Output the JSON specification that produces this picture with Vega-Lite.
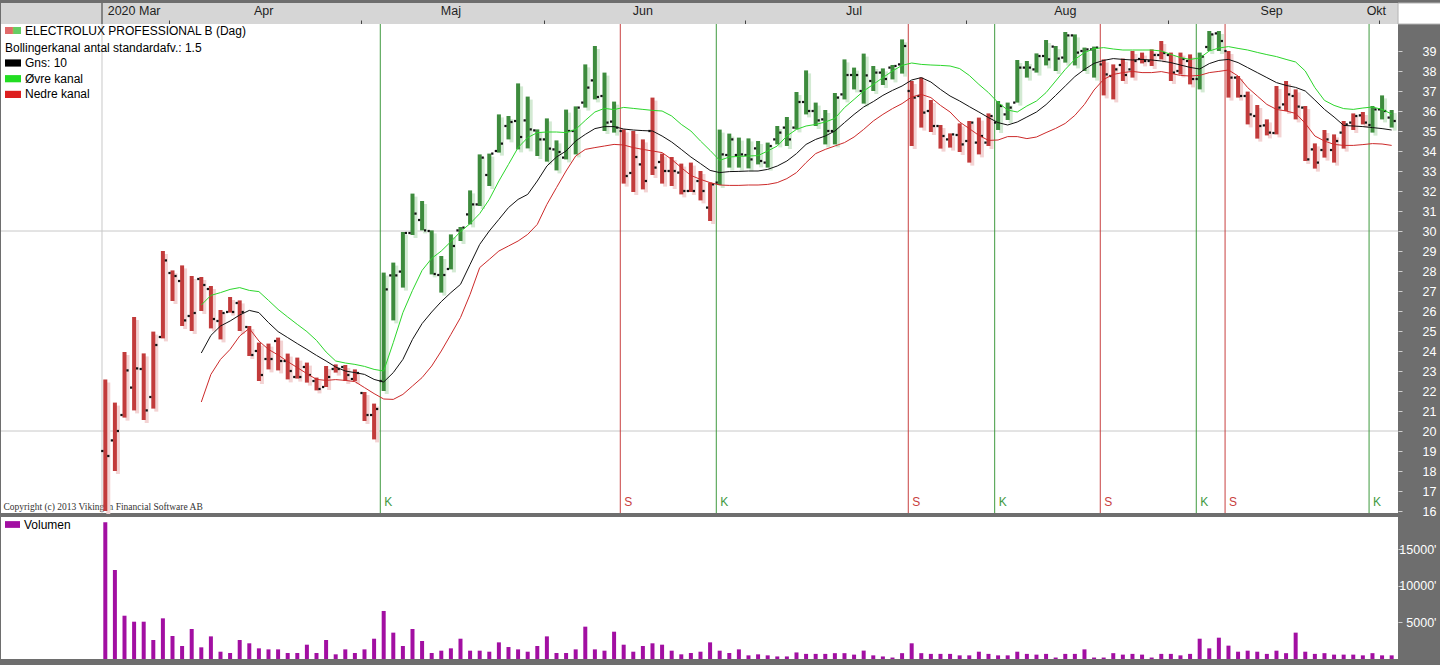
{
 "$schema": "https://vega.github.io/schema/vega-lite/v6.json",
 "background": "#6e6e6e",
 "padding": {"left": 0, "top": 2, "right": 10, "bottom": 10},
 "config": {"view": {"stroke": null}, "font": "Liberation Sans", "axis": {"labelOverlap": false, "labelSeparation": 0}, "legend": {"gradientHorizontalMinLength": 10, "gradientVerticalMinLength": 10}},
 "datasets": {
  "mon": [{"m":"2020 Mar","c":3},{"m":"Apr","c":16.5},{"m":"Maj","c":36},{"m":"Jun","c":56},{"m":"Jul","c":78},{"m":"Aug","c":100},{"m":"Sep","c":121.5},{"m":"Okt","c":132.4}],
  "sig": [{"k":29,"s":"K"},{"k":54,"s":"S"},{"k":64,"s":"K"},{"k":84,"s":"S"},{"k":93,"s":"K"},{"k":104,"s":"S"},{"k":114,"s":"K"},{"k":117,"s":"S"},{"k":132,"s":"K"}],
  "grid": [{"g":20},{"g":30}],
  "edge": [{"k":-0.344}],
  "p": [
{"k":0,"t":"S","o":19.0,"h":22.58,"lo":16.0,"c":18.75,"v":18720},
{"k":1,"t":"S","o":19.53,"h":21.42,"lo":18.0,"c":20.0,"v":12190},
{"k":2,"t":"S","o":20.8,"h":23.95,"lo":20.67,"c":23.03,"v":5930},
{"k":3,"t":"S","o":22.17,"h":25.7,"lo":21.03,"c":23.13,"v":5110},
{"k":4,"t":"S","o":23.1,"h":23.88,"lo":20.55,"c":21.03,"v":5110},
{"k":5,"t":"S","o":21.7,"h":24.97,"lo":21.12,"c":24.3,"v":2600},
{"k":6,"t":"S","o":24.7,"h":29.0,"lo":24.63,"c":28.53,"v":5570},
{"k":7,"t":"S","o":27.9,"h":28.03,"lo":26.5,"c":27.75,"v":3150},
{"k":8,"t":"S","o":27.5,"h":28.28,"lo":25.25,"c":25.53,"v":1780},
{"k":9,"t":"S","o":25.75,"h":27.75,"lo":25.0,"c":25.9,"v":4110},
{"k":10,"t":"S","o":27.6,"h":27.7,"lo":26.0,"c":27.3,"v":1600,"ma":23.9,"up":26.3,"dn":21.45},
{"k":11,"t":"S","o":27.1,"h":27.25,"lo":25.13,"c":25.6,"v":3100,"ma":24.78,"up":26.78,"dn":22.83},
{"k":12,"t":"S","o":25.5,"h":26.05,"lo":24.58,"c":25.9,"v":1000,"ma":25.25,"up":26.92,"dn":23.58},
{"k":13,"t":"S","o":25.95,"h":26.7,"lo":25.92,"c":25.95,"v":820,"ma":25.5,"up":27.08,"dn":24.08},
{"k":14,"t":"S","o":26.4,"h":26.53,"lo":25.0,"c":25.95,"v":2600,"ma":25.8,"up":27.17,"dn":24.75},
{"k":15,"t":"S","o":25.2,"h":25.25,"lo":23.75,"c":23.8,"v":2150,"ma":26.03,"up":27.03,"dn":25.13},
{"k":16,"t":"S","o":24.0,"h":24.42,"lo":22.5,"c":22.8,"v":1460,"ma":25.92,"up":26.97,"dn":24.5},
{"k":17,"t":"S","o":23.6,"h":24.37,"lo":23.08,"c":23.6,"v":1320,"ma":25.42,"up":26.53,"dn":24.08},
{"k":18,"t":"S","o":24.5,"h":24.67,"lo":23.03,"c":23.5,"v":1320,"ma":24.97,"up":26.08,"dn":23.8},
{"k":19,"t":"S","o":23.5,"h":23.87,"lo":22.58,"c":23.0,"v":820,"ma":24.67,"up":25.7,"dn":23.47},
{"k":20,"t":"S","o":22.7,"h":23.67,"lo":22.62,"c":22.7,"v":820,"ma":24.37,"up":25.33,"dn":23.17},
{"k":21,"t":"S","o":23.2,"h":23.42,"lo":22.42,"c":22.8,"v":1960,"ma":24.08,"up":24.97,"dn":22.87},
{"k":22,"t":"S","o":22.5,"h":22.67,"lo":22.03,"c":22.1,"v":820,"ma":23.78,"up":24.53,"dn":22.58},
{"k":23,"t":"S","o":22.2,"h":23.25,"lo":22.2,"c":22.7,"v":2600,"ma":23.5,"up":23.95,"dn":22.53},
{"k":24,"t":"S","o":23.1,"h":23.33,"lo":22.92,"c":23.1,"v":640,"ma":23.2,"up":23.5,"dn":22.57},
{"k":25,"t":"S","o":23.2,"h":23.3,"lo":22.5,"c":22.8,"v":1320,"ma":23.0,"up":23.4,"dn":22.53},
{"k":26,"t":"S","o":22.6,"h":23.08,"lo":22.5,"c":22.9,"v":820,"ma":22.92,"up":23.33,"dn":22.47},
{"k":27,"t":"S","o":21.9,"h":21.95,"lo":20.5,"c":20.8,"v":1320,"ma":22.83,"up":23.23,"dn":22.17},
{"k":28,"t":"S","o":20.8,"h":21.37,"lo":19.58,"c":21.1,"v":2780,"ma":22.58,"up":23.08,"dn":21.87},
{"k":29,"t":"K","o":22.5,"h":27.92,"lo":22.0,"c":27.08,"v":6580,"ma":22.45,"up":23.0,"dn":21.6},
{"k":30,"t":"K","o":27.78,"h":28.42,"lo":25.53,"c":27.78,"v":3610,"ma":22.92,"up":24.42,"dn":21.58},
{"k":31,"t":"K","o":27.97,"h":29.95,"lo":27.17,"c":29.9,"v":1780,"ma":23.58,"up":25.92,"dn":21.83},
{"k":32,"t":"K","o":29.9,"h":31.87,"lo":29.8,"c":30.87,"v":4110,"ma":24.58,"up":27.03,"dn":22.25},
{"k":33,"t":"K","o":30.55,"h":31.5,"lo":30.03,"c":30.03,"v":2470,"ma":25.37,"up":28.03,"dn":22.67},
{"k":34,"t":"K","o":30.0,"h":30.03,"lo":27.83,"c":27.85,"v":820,"ma":25.95,"up":28.63,"dn":23.25},
{"k":35,"t":"K","o":27.8,"h":28.75,"lo":26.92,"c":27.8,"v":1140,"ma":26.47,"up":29.0,"dn":24.0},
{"k":36,"t":"K","o":28.1,"h":29.83,"lo":28.08,"c":29.25,"v":1460,"ma":26.92,"up":29.47,"dn":24.83},
{"k":37,"t":"K","o":30.03,"h":30.2,"lo":29.5,"c":30.17,"v":2780,"ma":27.33,"up":29.97,"dn":25.67},
{"k":38,"t":"K","o":30.83,"h":32.03,"lo":30.33,"c":31.33,"v":1140,"ma":28.33,"up":30.37,"dn":26.83},
{"k":39,"t":"K","o":31.33,"h":33.83,"lo":31.25,"c":33.67,"v":1140,"ma":29.33,"up":30.87,"dn":28.17},
{"k":40,"t":"K","o":32.8,"h":33.87,"lo":32.25,"c":33.87,"v":1000,"ma":30.0,"up":31.58,"dn":28.58},
{"k":41,"t":"K","o":34.0,"h":35.83,"lo":33.92,"c":34.37,"v":2280,"ma":30.58,"up":32.5,"dn":29.0},
{"k":42,"t":"K","o":35.25,"h":35.75,"lo":34.58,"c":35.45,"v":1640,"ma":31.17,"up":33.33,"dn":29.25},
{"k":43,"t":"K","o":35.5,"h":37.38,"lo":34.08,"c":34.7,"v":1320,"ma":31.58,"up":34.17,"dn":29.5},
{"k":44,"t":"K","o":35.53,"h":36.72,"lo":34.13,"c":35.08,"v":1000,"ma":31.83,"up":34.67,"dn":29.83},
{"k":45,"t":"K","o":35.03,"h":35.08,"lo":33.75,"c":34.58,"v":1780,"ma":32.5,"up":34.92,"dn":30.33},
{"k":46,"t":"K","o":34.58,"h":35.63,"lo":33.47,"c":34.12,"v":3100,"ma":33.25,"up":34.95,"dn":31.33},
{"k":47,"t":"K","o":34.08,"h":34.53,"lo":33.03,"c":33.95,"v":820,"ma":33.7,"up":34.95,"dn":32.17},
{"k":48,"t":"K","o":33.67,"h":36.07,"lo":33.58,"c":35.0,"v":820,"ma":34.0,"up":34.92,"dn":33.0},
{"k":49,"t":"K","o":35.0,"h":36.23,"lo":33.83,"c":36.17,"v":1320,"ma":34.5,"up":35.08,"dn":33.75},
{"k":50,"t":"K","o":36.42,"h":38.33,"lo":36.17,"c":37.17,"v":4430,"ma":34.83,"up":35.53,"dn":34.08},
{"k":51,"t":"K","o":37.53,"h":39.25,"lo":36.58,"c":36.7,"v":1320,"ma":35.12,"up":35.95,"dn":34.17},
{"k":52,"t":"K","o":36.75,"h":37.92,"lo":35.0,"c":35.42,"v":1140,"ma":35.22,"up":36.13,"dn":34.25},
{"k":53,"t":"K","o":35.47,"h":36.47,"lo":34.92,"c":35.17,"v":3740,"ma":35.22,"up":36.07,"dn":34.33},
{"k":54,"t":"S","o":35.0,"h":35.08,"lo":32.37,"c":32.75,"v":1960,"ma":35.1,"up":36.18,"dn":34.3},
{"k":55,"t":"S","o":32.9,"h":35.0,"lo":31.95,"c":33.7,"v":1000,"ma":35.05,"up":36.13,"dn":34.17},
{"k":56,"t":"S","o":33.33,"h":34.58,"lo":32.08,"c":32.5,"v":1780,"ma":35.02,"up":36.08,"dn":34.08},
{"k":57,"t":"S","o":35.0,"h":36.67,"lo":32.8,"c":33.17,"v":2150,"ma":35.0,"up":36.03,"dn":34.0},
{"k":58,"t":"S","o":33.45,"h":33.87,"lo":32.37,"c":33.0,"v":1960,"ma":34.75,"up":36.0,"dn":33.92},
{"k":59,"t":"S","o":33.0,"h":33.7,"lo":32.25,"c":33.0,"v":1140,"ma":34.45,"up":35.75,"dn":33.58},
{"k":60,"t":"S","o":32.92,"h":33.37,"lo":31.83,"c":32.0,"v":640,"ma":34.08,"up":35.33,"dn":33.17},
{"k":61,"t":"S","o":32.0,"h":33.42,"lo":31.95,"c":32.0,"v":820,"ma":33.7,"up":35.0,"dn":32.78},
{"k":62,"t":"S","o":32.5,"h":33.0,"lo":31.53,"c":32.0,"v":1000,"ma":33.37,"up":34.5,"dn":32.58},
{"k":63,"t":"S","o":31.17,"h":32.42,"lo":30.5,"c":32.33,"v":2280,"ma":33.03,"up":34.03,"dn":32.42},
{"k":64,"t":"K","o":32.42,"h":35.07,"lo":32.3,"c":33.83,"v":1140,"ma":32.92,"up":33.53,"dn":32.3},
{"k":65,"t":"K","o":33.8,"h":34.87,"lo":33.17,"c":34.58,"v":820,"ma":32.97,"up":33.7,"dn":32.28},
{"k":66,"t":"K","o":33.8,"h":34.67,"lo":33.17,"c":33.83,"v":1320,"ma":32.98,"up":33.73,"dn":32.28},
{"k":67,"t":"K","o":33.8,"h":34.63,"lo":33.13,"c":33.58,"v":500,"ma":33.0,"up":33.75,"dn":32.3},
{"k":68,"t":"K","o":34.13,"h":34.5,"lo":33.33,"c":33.5,"v":640,"ma":33.0,"up":33.77,"dn":32.3},
{"k":69,"t":"K","o":33.42,"h":34.42,"lo":33.17,"c":34.25,"v":500,"ma":33.08,"up":34.0,"dn":32.33},
{"k":70,"t":"K","o":34.58,"h":35.25,"lo":34.33,"c":34.92,"v":350,"ma":33.25,"up":34.25,"dn":32.42},
{"k":71,"t":"K","o":35.17,"h":35.7,"lo":34.25,"c":34.58,"v":350,"ma":33.5,"up":34.75,"dn":32.62},
{"k":72,"t":"K","o":35.17,"h":36.95,"lo":35.08,"c":36.45,"v":900,"ma":33.87,"up":35.08,"dn":32.92},
{"k":73,"t":"K","o":36.45,"h":38.03,"lo":35.83,"c":36.0,"v":700,"ma":34.33,"up":35.25,"dn":33.42},
{"k":74,"t":"K","o":36.0,"h":36.42,"lo":35.25,"c":35.53,"v":700,"ma":34.58,"up":35.33,"dn":33.87},
{"k":75,"t":"K","o":35.58,"h":36.05,"lo":34.33,"c":35.0,"v":700,"ma":34.75,"up":35.45,"dn":34.08},
{"k":76,"t":"K","o":35.0,"h":36.9,"lo":34.33,"c":36.67,"v":800,"ma":35.0,"up":35.63,"dn":34.25},
{"k":77,"t":"K","o":36.83,"h":38.58,"lo":36.58,"c":37.8,"v":800,"ma":35.42,"up":36.17,"dn":34.42},
{"k":78,"t":"K","o":37.8,"h":38.17,"lo":37.08,"c":37.8,"v":600,"ma":35.83,"up":36.58,"dn":34.7},
{"k":79,"t":"K","o":37.0,"h":38.87,"lo":36.37,"c":37.78,"v":1150,"ma":36.2,"up":37.0,"dn":35.08},
{"k":80,"t":"K","o":37.5,"h":38.25,"lo":37.0,"c":37.92,"v":500,"ma":36.47,"up":37.33,"dn":35.5},
{"k":81,"t":"K","o":37.92,"h":38.13,"lo":37.3,"c":37.6,"v":350,"ma":36.78,"up":37.67,"dn":35.83},
{"k":82,"t":"K","o":38.17,"h":38.3,"lo":37.58,"c":38.25,"v":200,"ma":37.03,"up":38.0,"dn":36.12},
{"k":83,"t":"K","o":38.33,"h":39.58,"lo":37.87,"c":39.25,"v":800,"ma":37.25,"up":38.28,"dn":36.37},
{"k":84,"t":"S","o":37.0,"h":37.5,"lo":34.25,"c":36.67,"v":2150,"ma":37.55,"up":38.4,"dn":36.7},
{"k":85,"t":"S","o":36.75,"h":37.67,"lo":35.17,"c":35.92,"v":800,"ma":37.67,"up":38.33,"dn":36.83},
{"k":86,"t":"S","o":36.0,"h":36.55,"lo":34.95,"c":35.25,"v":700,"ma":37.45,"up":38.3,"dn":36.67},
{"k":87,"t":"S","o":35.25,"h":35.3,"lo":34.12,"c":34.75,"v":700,"ma":37.08,"up":38.28,"dn":36.28},
{"k":88,"t":"S","o":34.58,"h":34.88,"lo":34.17,"c":34.83,"v":700,"ma":36.75,"up":38.25,"dn":35.95},
{"k":89,"t":"S","o":34.8,"h":35.38,"lo":33.95,"c":34.33,"v":500,"ma":36.5,"up":38.12,"dn":35.45},
{"k":90,"t":"S","o":34.5,"h":35.5,"lo":33.42,"c":35.42,"v":500,"ma":36.22,"up":37.78,"dn":35.12},
{"k":91,"t":"S","o":34.42,"h":35.67,"lo":33.83,"c":34.75,"v":1000,"ma":35.95,"up":37.33,"dn":34.78},
{"k":92,"t":"S","o":34.42,"h":35.88,"lo":34.25,"c":35.75,"v":700,"ma":35.67,"up":36.92,"dn":34.53},
{"k":93,"t":"K","o":35.42,"h":36.5,"lo":35.05,"c":36.25,"v":500,"ma":35.42,"up":36.42,"dn":34.55},
{"k":94,"t":"K","o":35.83,"h":36.42,"lo":35.55,"c":36.17,"v":500,"ma":35.3,"up":36.05,"dn":34.72},
{"k":95,"t":"K","o":36.42,"h":38.55,"lo":36.42,"c":38.17,"v":1000,"ma":35.45,"up":35.95,"dn":34.72},
{"k":96,"t":"K","o":38.17,"h":38.5,"lo":37.67,"c":38.17,"v":700,"ma":35.7,"up":36.25,"dn":34.62},
{"k":97,"t":"K","o":38.08,"h":38.88,"lo":37.92,"c":38.75,"v":600,"ma":35.95,"up":36.5,"dn":34.7},
{"k":98,"t":"K","o":38.75,"h":39.55,"lo":38.28,"c":38.58,"v":700,"ma":36.32,"up":36.92,"dn":34.92},
{"k":99,"t":"K","o":39.22,"h":39.25,"lo":38.0,"c":38.62,"v":200,"ma":36.78,"up":37.5,"dn":35.13},
{"k":100,"t":"K","o":38.67,"h":39.95,"lo":38.42,"c":39.78,"v":700,"ma":37.25,"up":38.08,"dn":35.38},
{"k":101,"t":"K","o":39.78,"h":39.83,"lo":38.28,"c":38.92,"v":700,"ma":37.72,"up":38.58,"dn":35.78},
{"k":102,"t":"K","o":39.0,"h":39.17,"lo":38.0,"c":39.08,"v":1320,"ma":38.08,"up":38.92,"dn":36.33},
{"k":103,"t":"K","o":39.08,"h":39.22,"lo":37.67,"c":39.17,"v":200,"ma":38.38,"up":39.12,"dn":37.05},
{"k":104,"t":"S","o":38.33,"h":38.58,"lo":36.78,"c":37.83,"v":200,"ma":38.53,"up":39.17,"dn":37.58},
{"k":105,"t":"S","o":37.75,"h":38.33,"lo":36.58,"c":38.08,"v":800,"ma":38.62,"up":39.1,"dn":37.83},
{"k":106,"t":"S","o":38.3,"h":38.62,"lo":37.5,"c":37.8,"v":600,"ma":38.58,"up":39.05,"dn":37.92},
{"k":107,"t":"S","o":38.08,"h":39.0,"lo":37.67,"c":38.5,"v":700,"ma":38.55,"up":39.05,"dn":37.98},
{"k":108,"t":"S","o":38.6,"h":38.92,"lo":38.38,"c":38.5,"v":600,"ma":38.58,"up":39.05,"dn":37.92},
{"k":109,"t":"S","o":38.5,"h":39.08,"lo":38.25,"c":38.8,"v":200,"ma":38.55,"up":39.05,"dn":37.92},
{"k":110,"t":"S","o":38.8,"h":39.5,"lo":38.58,"c":38.9,"v":700,"ma":38.5,"up":39.0,"dn":37.97},
{"k":111,"t":"S","o":38.8,"h":38.92,"lo":37.5,"c":37.92,"v":700,"ma":38.42,"up":38.83,"dn":37.88},
{"k":112,"t":"S","o":38.0,"h":38.92,"lo":37.83,"c":38.6,"v":500,"ma":38.3,"up":38.67,"dn":37.78},
{"k":113,"t":"S","o":38.5,"h":38.83,"lo":37.33,"c":37.6,"v":700,"ma":38.18,"up":38.58,"dn":37.75},
{"k":114,"t":"K","o":37.6,"h":38.92,"lo":37.08,"c":38.72,"v":2780,"ma":38.1,"up":38.65,"dn":37.78},
{"k":115,"t":"K","o":39.2,"h":40.0,"lo":39.0,"c":39.83,"v":1460,"ma":38.37,"up":39.0,"dn":37.92},
{"k":116,"t":"K","o":39.88,"h":40.0,"lo":39.0,"c":39.5,"v":2920,"ma":38.53,"up":39.15,"dn":37.98},
{"k":117,"t":"S","o":39.0,"h":39.0,"lo":36.67,"c":37.67,"v":1830,"ma":38.58,"up":39.22,"dn":38.05},
{"k":118,"t":"S","o":37.67,"h":37.75,"lo":36.67,"c":36.75,"v":1000,"ma":38.42,"up":39.13,"dn":37.75},
{"k":119,"t":"S","o":36.75,"h":36.97,"lo":35.33,"c":35.83,"v":1140,"ma":38.17,"up":39.05,"dn":37.17},
{"k":120,"t":"S","o":35.75,"h":36.3,"lo":34.62,"c":35.25,"v":1000,"ma":37.92,"up":38.93,"dn":36.75},
{"k":121,"t":"S","o":35.28,"h":35.58,"lo":34.78,"c":34.92,"v":700,"ma":37.67,"up":38.82,"dn":36.33},
{"k":122,"t":"S","o":34.9,"h":37.25,"lo":34.83,"c":36.17,"v":1140,"ma":37.42,"up":38.72,"dn":36.08},
{"k":123,"t":"S","o":36.33,"h":37.5,"lo":36.0,"c":36.83,"v":800,"ma":37.28,"up":38.58,"dn":36.0},
{"k":124,"t":"S","o":36.75,"h":37.08,"lo":35.58,"c":36.22,"v":3610,"ma":37.18,"up":38.45,"dn":35.88},
{"k":125,"t":"S","o":36.17,"h":36.25,"lo":33.5,"c":33.58,"v":1000,"ma":37.0,"up":38.0,"dn":35.38},
{"k":126,"t":"S","o":34.08,"h":34.38,"lo":33.12,"c":33.42,"v":700,"ma":36.55,"up":37.17,"dn":34.75},
{"k":127,"t":"S","o":34.05,"h":35.05,"lo":33.67,"c":34.58,"v":800,"ma":36.08,"up":36.53,"dn":34.5},
{"k":128,"t":"S","o":34.05,"h":34.83,"lo":33.42,"c":34.5,"v":600,"ma":35.7,"up":36.28,"dn":34.33},
{"k":129,"t":"S","o":34.92,"h":35.5,"lo":34.12,"c":35.33,"v":600,"ma":35.28,"up":36.12,"dn":34.28},
{"k":130,"t":"S","o":35.42,"h":35.88,"lo":35.05,"c":35.75,"v":600,"ma":35.25,"up":36.08,"dn":34.28},
{"k":131,"t":"S","o":35.78,"h":35.95,"lo":35.33,"c":35.42,"v":500,"ma":35.22,"up":36.15,"dn":34.32},
{"k":132,"t":"K","o":35.3,"h":36.25,"lo":34.92,"c":36.08,"v":800,"ma":35.17,"up":36.2,"dn":34.37},
{"k":133,"t":"K","o":36.08,"h":36.78,"lo":35.58,"c":36.0,"v":500,"ma":35.12,"up":36.08,"dn":34.35},
{"k":134,"t":"K","o":35.67,"h":36.05,"lo":35.17,"c":35.5,"v":500,"ma":35.05,"up":35.85,"dn":34.28}
  ]
 },
 "spacing": 0,
 "bounds": "flush",
 "resolve": {"scale": {"color": "independent", "fill": "independent"}, "legend": {"color": "independent", "fill": "independent"}},
 "vconcat": [
  {
   "width": 1440, "height": 21,
   "view": {"fill": "#d6d6d6", "stroke": null},
   "layer": [
    {
     "data": {"name": "mon"},
     "mark": {"type": "text", "font": "Liberation Sans", "fontSize": 12.5, "color": "#1e1e1e", "baseline": "middle", "dy": -3},
     "encoding": {
      "x": {"field": "c", "type": "quantitative", "scale": {"domain": [-10.865, 139.135], "nice": false, "zero": false},
            "axis": {"orient": "bottom", "values": [6.65, 26.65, 45.65, 66.65, 89.65, 110.65, 132.65], "tickCount": 20, "labels": false, "domain": false, "grid": false, "tickSize": 4, "offset": -4, "tickColor": "#444", "title": null}},
      "text": {"field": "m"}
     }
    },
    {
     "data": {"name": "edge"},
     "mark": {"type": "rule", "color": "#333", "strokeWidth": 1},
     "encoding": {"x": {"field": "k", "type": "quantitative"}}
    },
    {
     "data": {"name": "edge"},
     "mark": {"type": "rect", "fill": "#ffffff", "stroke": "#b4b4b4", "strokeWidth": 1},
     "encoding": {"x": {"datum": 134.66, "type": "quantitative"}, "x2": {"datum": 139.2}}
    }
   ]
  },
  {
   "spacing": 4,
   "bounds": "flush",
   "resolve": {"scale": {"color": "independent", "fill": "independent"}, "legend": {"color": "independent", "fill": "independent"}},
   "vconcat": [
    {
     "width": 1397, "height": 489,
     "view": {"fill": "white", "stroke": null},
     "layer": [
      {
       "data": {"name": "grid"},
       "mark": {"type": "rule", "color": "#c8c8c8"},
       "encoding": {
        "y": {"field": "g", "type": "quantitative", "scale": {"domain": [15.9, 40.35], "nice": false, "zero": false},
              "axis": {"orient": "right", "values": [16,17,18,19,20,21,22,23,24,25,26,27,28,29,30,31,32,33,34,35,36,37,38,39], "tickCount": 40, "format": "d", "labelOverlap": false, "labelSeparation": 0, "title": null, "grid": false, "domain": false, "tickSize": 4, "tickColor": "#cfcfcf", "labelColor": "white", "labelFont": "Liberation Sans", "labelFontSize": 12.5, "labelAlign": "right", "labelBaseline": "middle", "labelPadding": 34, "minExtent": 43, "maxExtent": 43}}
       }
      },
      {
       "data": {"name": "edge"},
       "mark": {"type": "rule", "color": "#c8c8c8"},
       "encoding": {
        "x": {"field": "k", "type": "quantitative", "scale": {"domain": [-10.865, 134.66], "nice": false, "zero": false},
              "axis": {"orient": "bottom", "title": "Copyright (c) 2013 Vikingen Financial Software AB", "labels": false, "ticks": false, "domain": false, "grid": false, "titleFont": "Liberation Serif", "titleFontSize": 9.5, "titleFontWeight": "normal", "titleColor": "#333", "titleAnchor": "start", "titleAlign": "left", "titleBaseline": "bottom", "titleX": 2, "titleY": -2}}
       }
      },
      {
       "data": {"name": "sig"},
       "mark": {"type": "rule", "strokeWidth": 1, "xOffset": -3.4},
       "encoding": {
        "x": {"field": "k", "type": "quantitative"},
        "color": {"condition": {"test": "datum.s === 'K'", "value": "#3f9a3f"}, "value": "#c84040"}
       }
      },
      {
       "data": {"name": "sig"},
       "mark": {"type": "text", "fontSize": 12, "align": "left", "baseline": "middle", "xOffset": -3.4, "dx": 4},
       "encoding": {
        "x": {"field": "k", "type": "quantitative"},
        "y": {"datum": 16.45, "type": "quantitative"},
        "text": {"field": "s"},
        "color": {"condition": {"test": "datum.s === 'K'", "value": "#3f9a3f"}, "value": "#c84040"}
       }
      },
      {
       "data": {"name": "p"},
       "mark": {"type": "rule", "strokeWidth": 4, "strokeCap": "butt", "xOffset": 3, "yOffset": 3, "y2Offset": 3},
       "encoding": {
        "x": {"field": "k", "type": "quantitative"},
        "y": {"field": "lo", "type": "quantitative"},
        "y2": {"field": "h"},
        "color": {"condition": {"test": "datum.t === 'K'", "value": "#d3ead3"}, "value": "#f3d3d3"}
       }
      },
      {
       "data": {"name": "p"},
       "mark": {"type": "rule", "strokeWidth": 4, "strokeCap": "butt"},
       "encoding": {
        "x": {"field": "k", "type": "quantitative"},
        "y": {"field": "lo", "type": "quantitative"},
        "y2": {"field": "h"},
        "color": {"condition": {"test": "datum.t === 'K'", "value": "#3d8b3d"}, "value": "#c23b3b"}
       }
      },
      {
       "data": {"name": "p"},
       "mark": {"type": "square", "size": 5, "xOffset": -3, "color": "#111", "opacity": 1},
       "encoding": {"x": {"field": "k", "type": "quantitative"}, "y": {"field": "o", "type": "quantitative"}}
      },
      {
       "data": {"name": "p"},
       "mark": {"type": "square", "size": 5, "xOffset": 3, "color": "#111", "opacity": 1},
       "encoding": {"x": {"field": "k", "type": "quantitative"}, "y": {"field": "c", "type": "quantitative"}}
      },
      {
       "data": {"name": "p"},
       "mark": {"type": "line", "color": "#111", "strokeWidth": 1},
       "encoding": {"x": {"field": "k", "type": "quantitative"}, "y": {"field": "ma", "type": "quantitative"}}
      },
      {
       "data": {"name": "p"},
       "mark": {"type": "line", "color": "#2bd62b", "strokeWidth": 1},
       "encoding": {"x": {"field": "k", "type": "quantitative"}, "y": {"field": "up", "type": "quantitative"}}
      },
      {
       "data": {"name": "p"},
       "mark": {"type": "line", "color": "#cc2a2a", "strokeWidth": 1},
       "encoding": {"x": {"field": "k", "type": "quantitative"}, "y": {"field": "dn", "type": "quantitative"}}
      },
      {
       "data": {"values": []},
       "mark": {"type": "square"},
       "encoding": {
        "fill": {"field": "f", "type": "quantitative",
          "scale": {"type": "linear", "domain": [0, 0.49, 0.51, 1], "range": ["#d42a2a", "#d42a2a", "#22b822", "#22b822"]},
          "legend": {"orient": "none", "legendX": 4, "legendY": 3, "direction": "horizontal", "gradientLength": 16, "gradientThickness": 7, "gradientStrokeWidth": 0, "labelExpr": "''", "labelFontSize": 1, "labelOpacity": 0, "title": "ELECTROLUX PROFESSIONAL B (Dag)", "titleOrient": "right", "titleFont": "Liberation Sans", "titleFontSize": 12, "titleFontWeight": "normal", "titleColor": "#000", "titlePadding": 4, "titleLimit": 400, "titleBaseline": "middle", "padding": 0}}
       }
      },
      {
       "data": {"values": []},
       "mark": {"type": "square"},
       "encoding": {
        "color": {"field": "s", "type": "nominal",
          "scale": {"domain": ["Gns: 10", "Øvre kanal", "Nedre kanal"], "range": ["#000000", "#22dd22", "#dd1f1f"]},
          "legend": {"orient": "none", "legendX": 4, "legendY": 19, "title": "Bollingerkanal antal standardafv.: 1.5", "titleFont": "Liberation Sans", "titleFontSize": 12, "titleFontWeight": "normal", "titleColor": "#000", "titlePadding": 0, "titleLimit": 400, "padding": 0, "rowPadding": 1.7, "symbolType": "M-1,-0.45H1V0.45H-1Z", "symbolSize": 256, "symbolStrokeWidth": 0, "symbolOpacity": 1, "labelFont": "Liberation Sans", "labelFontSize": 12, "labelColor": "#000", "labelOffset": 4, "labelLimit": 400}}
       }
      }
     ]
    },
    {
     "width": 1397, "height": 142,
     "view": {"fill": "white", "stroke": null},
     "layer": [
      {
       "data": {"name": "p"},
       "mark": {"type": "rule", "strokeWidth": 4, "strokeCap": "butt", "color": "#a20fa2"},
       "encoding": {
        "x": {"field": "k", "type": "quantitative", "scale": {"domain": [-10.865, 134.66], "nice": false, "zero": false}, "axis": null},
        "y": {"field": "v", "type": "quantitative", "scale": {"domain": [0, 19452], "nice": false},
              "axis": {"orient": "right", "values": [5000, 10000, 15000], "tickCount": 10, "labelExpr": "datum.value + \"'\"", "labelOverlap": false, "title": null, "grid": false, "domain": false, "tickSize": 4, "tickColor": "#cfcfcf", "labelColor": "white", "labelFont": "Liberation Sans", "labelFontSize": 12.5, "labelAlign": "right", "labelBaseline": "middle", "labelPadding": 34, "minExtent": 43, "maxExtent": 43}},
        "y2": {"datum": 0}
       }
      },
      {
       "data": {"values": []},
       "mark": {"type": "square"},
       "encoding": {
        "color": {"field": "s", "type": "nominal", "scale": {"domain": ["Volumen"], "range": ["#a20fa2"]},
          "legend": {"orient": "none", "legendX": 4, "legendY": 0, "title": null, "padding": 0, "symbolType": "M-1,-0.45H1V0.45H-1Z", "symbolSize": 225, "symbolStrokeWidth": 0, "symbolOpacity": 1, "labelFont": "Liberation Sans", "labelFontSize": 12, "labelColor": "#000", "labelOffset": 4}}
       }
      }
     ]
    }
   ]
  }
 ]
}
